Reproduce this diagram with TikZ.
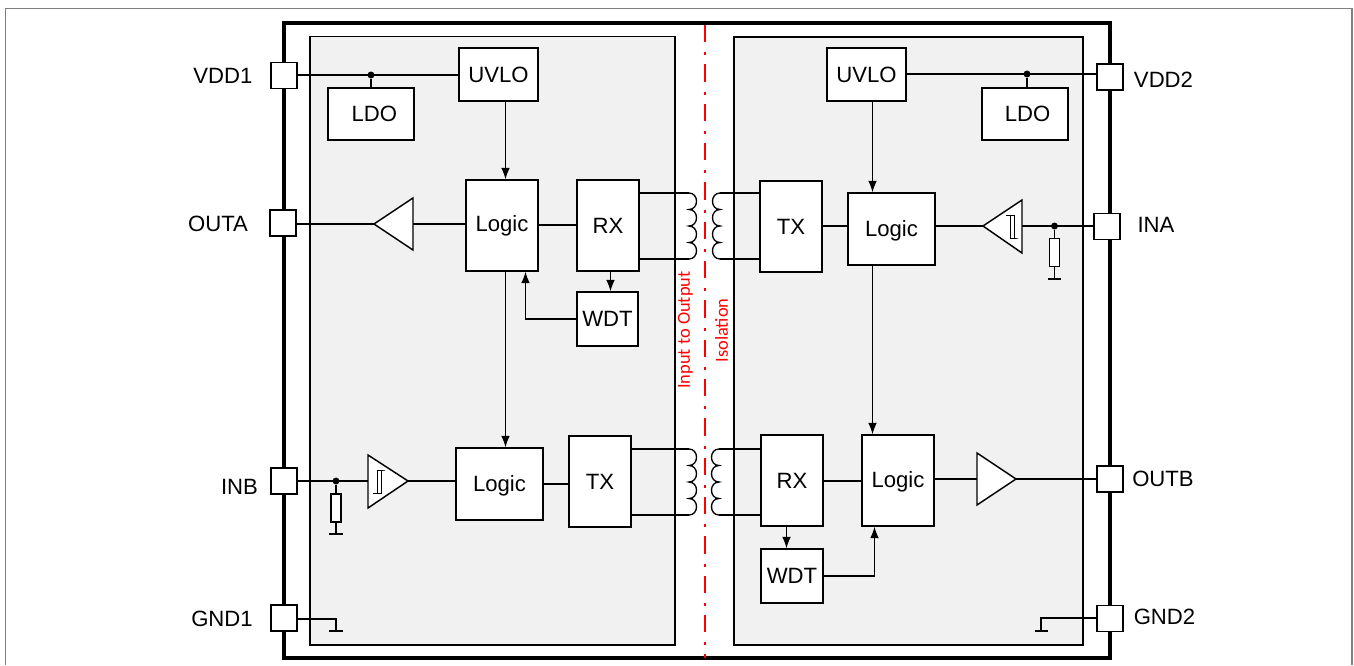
\documentclass[tikz,border=0pt]{standalone}
\usepackage{fontspec}
\setmainfont{Liberation Sans}
\newfontfamily\isofont{Carlito}
\usetikzlibrary{arrows.meta}
\definecolor{panelgrey}{HTML}{F1F1F1}
\definecolor{framegrey}{HTML}{7F7F7F}
\definecolor{isored}{HTML}{FF0000}
\tikzset{
  x=0.75pt,y=-0.75pt,
  blk/.style={draw=black,fill=white,line width=1.1pt,inner sep=0pt,font=\fontsize{16.6}{18}\selectfont},
  pin/.style={draw=black,fill=white,line width=1.1pt,inner sep=0pt,minimum width=19.5pt,minimum height=19.5pt},
  res/.style={draw=black,fill=white,line width=1pt,inner sep=0pt,minimum width=7.5pt,minimum height=21pt},
  lbl/.style={inner sep=0pt,font=\fontsize{16.6}{18}\selectfont},
  iso/.style={inner sep=0pt,text=isored,rotate=90,font=\isofont\fontsize{13.8}{15}\selectfont},
  wire/.style={draw=black,line width=0.85pt},
  arr/.style={wire,-{Latex[length=8.5pt,width=6.5pt]}},
  dot/.style={circle,fill=black,inner sep=0pt,minimum size=5.2pt},
  tri/.style={draw=black,fill=white,line width=1.1pt,line join=miter},
  hyst/.style={draw=black,line width=0.75pt},
  gbar/.style={draw=black,line width=2pt},
  coil/.style={draw=black,line width=1pt},
}
\newcommand{\bx}[6]{\node[blk,minimum width={(#4-#2)*0.75pt},minimum height={(#5-#3)*0.75pt}] (#1) at ({(#2+#4)/2},{(#3+#5)/2}) {#6};}
\newcommand{\lowtext}[2]{\vphantom{#2}\smash{\raisebox{#1}{#2}}}
\newcommand{\coilR}[2]{(#1,#2) .. controls +(10,0) and +(10,0) .. ++(0,16.5) .. controls +(10,0) and +(10,0) .. ++(0,16.5) .. controls +(10,0) and +(10,0) .. ++(0,16.5) .. controls +(10,0) and +(10,0) .. ++(0,16.5)}
\newcommand{\coilL}[2]{(#1,#2) .. controls +(-10,0) and +(-10,0) .. ++(0,16.5) .. controls +(-10,0) and +(-10,0) .. ++(0,16.5) .. controls +(-10,0) and +(-10,0) .. ++(0,16.5) .. controls +(-10,0) and +(-10,0) .. ++(0,16.5)}
\begin{document}
\begin{tikzpicture}
\useasboundingbox (0,0) rectangle (1354,665);
% page frame
\draw[framegrey,line width=0.9pt] (5.5,665) -- (5.5,8.5) -- (1352,8.5) -- (1352,665);
% package
\draw[black,line width=2.7pt] (284,23) rectangle (1110,658);
% panels
\draw[black,fill=panelgrey,line width=1.1pt] (310,36.5) rectangle (675,645);
\draw[black,fill=panelgrey,line width=1.1pt] (734,37) rectangle (1083,645);
% pins
\node[pin] (pVDDa) at (284,75.5) {};
\node[pin] (pOUTA) at (283,223) {};
\node[pin] (pINB)  at (284,481) {};
\node[pin] (pGNDa) at (284,618) {};
\node[pin] (pVDDb) at (1110,77) {};
\node[pin] (pINA)  at (1107,226.5) {};
\node[pin] (pOUTB) at (1110,479) {};
\node[pin] (pGNDb) at (1110,618.5) {};
% pin labels
\node[lbl] (tVDDa) at (223,75.5) {VDD1};
\node[lbl] (tOUTA) at (218,224) {OUTA};
\node[lbl] (tINB)  at (239.5,487) {INB};
\node[lbl] (tGNDa) at (222,619) {GND1};
\node[lbl] (tVDDb) at (1163.5,80) {VDD2};
\node[lbl] (tINA)  at (1156,225) {INA};
\node[lbl] (tOUTB) at (1163,479) {OUTB};
\node[lbl] (tGNDb) at (1164.5,617) {GND2};
% blocks left
\bx{uvA}{459}{48}{538}{101}{UVLO}
\bx{ldoA}{328}{88}{414}{140}{\hspace*{5pt}LDO}
\bx{logA}{466}{180}{538}{271}{Logic}
\bx{rxA}{577}{180}{639}{271}{RX}
\bx{wdtA}{577}{292}{638}{346}{WDT}
\bx{logB}{456}{448}{543}{520}{\lowtext{-1.3pt}{Logic}}
\bx{txA}{569}{436}{631}{527}{TX}
% blocks right
\bx{uvB}{827}{48}{906}{101}{UVLO}
\bx{ldoB}{982}{88}{1068}{140}{\hspace*{4pt}LDO}
\bx{txB}{760}{181}{822}{272}{TX}
\bx{logC}{848}{193}{935}{265}{\lowtext{-1pt}{Logic}}
\bx{rxB}{761}{435}{823}{526}{RX}
\bx{logD}{862}{435}{934}{526}{\lowtext{-0.8pt}{Logic}}
\bx{wdtB}{761}{549}{823}{603}{WDT}
% rails and symbol points
\coordinate (triAtip) at (374,224);  \coordinate (triAb) at (413,224);
\coordinate (triCtip) at (983,226);  \coordinate (triCb) at (1022,226);
\coordinate (triBtip) at (408,481);  \coordinate (triBb) at (368,481);
\coordinate (triDtip) at (1016,479); \coordinate (triDb) at (977,479);
\coordinate (gA) at (336,631); \coordinate (gB) at (1041,631);
\coordinate (gRA) at (336,534); \coordinate (gRC) at (1054.5,279);
\coordinate (cA1) at (689,193); \coordinate (cA2) at (689,259);
\coordinate (cB1) at (720,193); \coordinate (cB2) at (720,259);
\coordinate (cC1) at (689,449); \coordinate (cC2) at (689,515);
\coordinate (cD1) at (719,449); \coordinate (cD2) at (719,515);
% dots and resistors
\node[dot] (dA) at (371,75) {};
\node[dot] (dB) at (1027,74) {};
\node[dot] (dC) at (1054.5,226) {};
\node[dot] (dD) at (336,481) {};
\node[res] (rC) at (1054.5,252.5) {};
\node[res] (rD) at (336,508) {};
% triangles
\draw[tri] (triAtip) -- (413,198) -- (413,250) -- cycle;
\draw[tri] (triCtip) -- (1022,200) -- (1022,253) -- cycle;
\draw[tri] (triBtip) -- (368,455) -- (368,508) -- cycle;
\draw[tri] (triDtip) -- (977,453) -- (977,505) -- cycle;
% hysteresis marks
\draw[hyst] (1006,215) -- (1014,215) -- (1014,238) -- (1018,238) -- (1010,238) -- (1010,215);
\draw[hyst] (373,493) -- (381,493) -- (381,470) -- (385,470) -- (377,470) -- (377,493);
% wires left
\draw[wire] (pVDDa.east |- dA) -- (uvA.west |- dA);
\draw[wire] (dA) -- (dA |- ldoA.north);
\coordinate (xA) at (505.5,0);
\draw[arr] (xA |- uvA.south) -- (xA |- logA.north);
\draw[arr] (xA |- logA.south) -- (xA |- logB.north);
\draw[wire] (pOUTA.east |- triAtip) -- (triAtip);
\draw[wire] (triAb) -- (logA.west |- triAb);
\coordinate (yA) at (0,225);
\draw[wire] (logA.east |- yA) -- (rxA.west |- yA);
\coordinate (xB) at (610.5,0);
\draw[arr] (xB |- rxA.south) -- (xB |- wdtA.north);
\coordinate (xC) at (525.5,0);
\draw[arr] (wdtA.west) -| (xC |- logA.south);
\draw[wire] (pINB.east |- dD) -- (triBb);
\draw[wire] (triBtip) -- (logB.west |- triBtip);
\coordinate (yB) at (0,484);
\draw[wire] (logB.east |- yB) -- (txA.west |- yB);
\draw[wire] (dD) -- (rD.north);
\draw[wire] (rD.south) -- (gRA);
\draw[gbar] (329,534) -- (342.5,534);
\draw[wire] (pGNDa.east |- 0,619) -| (gA);
\draw[gbar] (329,631) -- (342.5,631);
% wires right
\draw[wire] (uvB.east |- dB) -- (pVDDb.west |- dB);
\draw[wire] (dB) -- (dB |- ldoB.north);
\coordinate (xD) at (872.5,0);
\draw[arr] (xD |- uvB.south) -- (xD |- logC.north);
\draw[arr] (xD |- logC.south) -- (xD |- logD.north);
\draw[wire] (txB.east |- 0,226) -- (logC.west |- 0,226);
\draw[wire] (logC.east |- triCtip) -- (triCtip);
\draw[wire] (triCb) -- (pINA.west |- triCb);
\draw[wire] (dC) -- (rC.north);
\draw[wire] (rC.south) -- (gRC);
\draw[gbar] (1048,279) -- (1061,279);
\coordinate (xE) at (786.5,0);
\draw[arr] (xE |- rxB.south) -- (xE |- wdtB.north);
\coordinate (xF) at (874.5,0);
\draw[arr] (wdtB.east) -| (xF |- logD.south);
\draw[wire] (rxB.east |- 0,481) -- (logD.west |- 0,481);
\draw[wire] (logD.east |- triDb) -- (triDb);
\draw[wire] (triDtip) -- (pOUTB.west |- triDtip);
\draw[wire] (pGNDb.west |- 0,618) -| (gB);
\draw[gbar] (1034.5,631) -- (1048,631);
% transformer windings
\draw[wire] (rxA.east |- cA1) -- (cA1);
\draw[wire] (rxA.east |- cA2) -- (cA2);
\draw[coil] \coilR{689}{193};
\draw[wire] (txB.west |- cB1) -- (cB1);
\draw[wire] (txB.west |- cB2) -- (cB2);
\draw[coil] \coilL{720}{193};
\draw[wire] (txA.east |- cC1) -- (cC1);
\draw[wire] (txA.east |- cC2) -- (cC2);
\draw[coil] \coilR{689}{449};
\draw[wire] (rxB.west |- cD1) -- (cD1);
\draw[wire] (rxB.west |- cD2) -- (cD2);
\draw[coil] \coilL{719}{449};
% isolation barrier
\coordinate (barT) at (705,25);
\coordinate (barB) at (705,658);
\draw[isored,line width=1.5pt,dash pattern=on 13pt off 7.5pt on 2.2pt off 6.8pt] (barT) -- (barB);
\node[iso] (tIso1) at (685.5,330) {Input to Output};
\node[iso] (tIso2) at (721.5,330.5) {Isolation};
\end{tikzpicture}
\end{document}
